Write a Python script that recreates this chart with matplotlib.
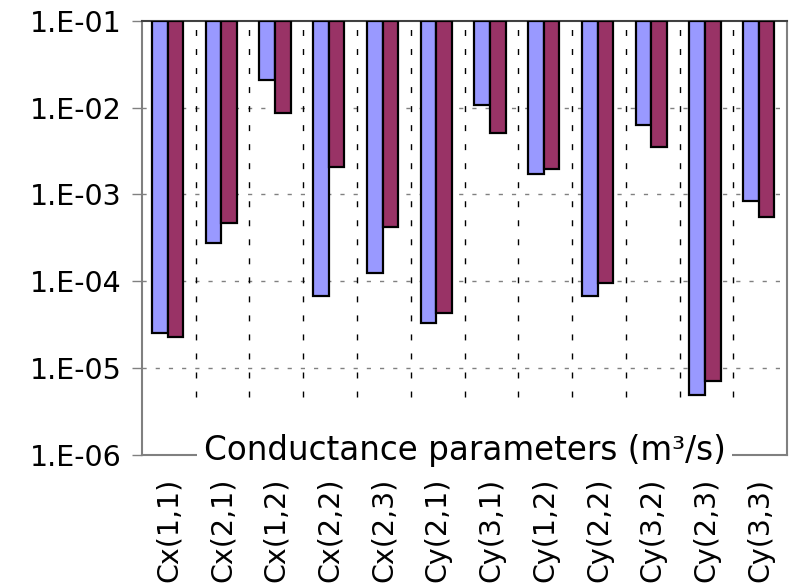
import numpy as np
import matplotlib
matplotlib.use("Agg")
import matplotlib.pyplot as plt

# conductance parameters (m3/s), two estimates per parameter
categories = ["Cx(1,1)", "Cx(2,1)", "Cx(1,2)", "Cx(2,2)", "Cx(2,3)", "Cy(2,1)",
              "Cy(3,1)", "Cy(1,2)", "Cy(2,2)", "Cy(3,2)", "Cy(2,3)", "Cy(3,3)"]
series_a = [2.57e-5, 2.79e-4, 2.08e-2, 6.8e-5, 1.26e-4, 3.35e-5,
            1.07e-2, 1.71e-3, 6.8e-5, 6.3e-3, 4.97e-6, 8.5e-4]
series_b = [2.3e-5, 4.73e-4, 8.73e-3, 2.09e-3, 4.26e-4, 4.36e-5,
            5.14e-3, 1.96e-3, 9.66e-5, 3.55e-3, 7.2e-6, 5.56e-4]
y_ticks = [1e-6, 1e-5, 1e-4, 1e-3, 1e-2, 1e-1]
y_tick_labels = ["1.E-06", "1.E-05", "1.E-04", "1.E-03", "1.E-02", "1.E-01"]
y_top = 1e-1

plt.rcParams['font.family'] = ['DejaVu Sans']
plt.rcParams['lines.scale_dashes'] = False

fig = plt.figure(figsize=(7.91, 5.88), dpi=100)
ax = fig.add_axes([0.1795, 0.2262, 0.8155, 0.7386])

x = np.arange(len(categories))
w = 0.29
a = np.array(series_a)
b = np.array(series_b)
# bars hang down from the top of the axis
ax.bar(x - 0.17, y_top - a, bottom=a, width=w, color='#9999FF',
       edgecolor='black', linewidth=1.6, zorder=3)
ax.bar(x + 0.12, y_top - b, bottom=b, width=w, color='#993366',
       edgecolor='black', linewidth=1.6, zorder=3)

ax.set_yscale('log')
ax.set_ylim(1e-6, 1e-1)
ax.set_xlim(-0.5, len(categories) - 0.5)
ax.set_yticks(y_ticks)
ax.set_yticklabels(y_tick_labels, fontsize=20.5)
ax.yaxis.set_minor_locator(matplotlib.ticker.NullLocator())
ax.tick_params(axis='y', length=7.5, width=1, color='#808080', pad=7)

ax.set_xticks(x)
ax.set_xticklabels(categories, rotation=90, fontsize=20.5)
ax.tick_params(axis='x', length=0, pad=16.5)

# grid lines
for yt in y_ticks[1:-1]:
    ax.axhline(yt, color='#808080', linewidth=1, linestyle=(0, (3, 6.5)), zorder=1)
for xb in x[:-1] + 0.5:
    ax.axvline(xb, ymin=0.134, ymax=1, color='black', linewidth=1,
               linestyle=(0, (4.3, 9.4)), zorder=1)

for side in ['left', 'right', 'bottom']:
    ax.spines[side].set_color('#808080')
    ax.spines[side].set_linewidth(1.5)
ax.spines['top'].set_color('#404040')
ax.spines['top'].set_linewidth(1.5)

ax.text(0.5, 0.01, "Conductance parameters (m\u00b3/s)", transform=ax.transAxes,
        ha='center', va='center', fontsize=23.5, zorder=5, clip_on=False,
        bbox=dict(facecolor='white', edgecolor='none', pad=5))

fig.savefig('out.png', dpi=100)
